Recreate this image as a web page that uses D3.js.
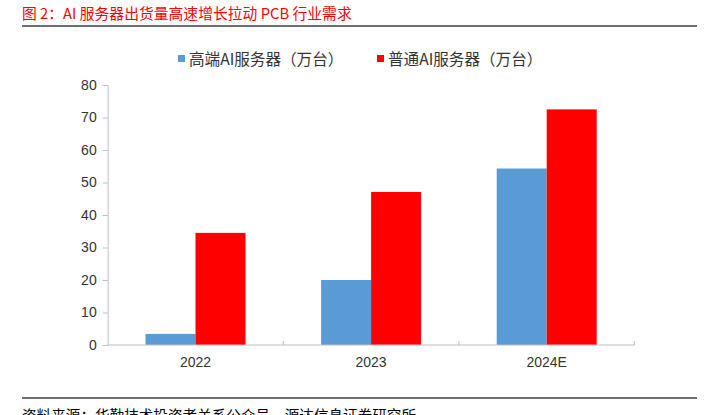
<!DOCTYPE html>
<html>
<head>
<meta charset="utf-8">
<script src="https://cdn.jsdelivr.net/npm/d3@7/dist/d3.min.js"></script>
<style>
  body { margin: 0; background: #fff; }
  svg { display: block; font-family: "Liberation Sans", Arial, "Noto Sans CJK SC", sans-serif; }
</style>
</head>
<body>
<svg id="chart" width="705" height="415"></svg>
<script>
var categories = ['2022', '2023', '2024E'];
var highEnd = [3.4, 20.0, 54.3];
var normal = [34.5, 47.1, 72.5];
var seriesNames = ['高端AI服务器（万台）', '普通AI服务器（万台）'];
var seriesColors = ['#5b9bd5', '#ff0000'];
var yTicks = [0, 10, 20, 30, 40, 50, 60, 70, 80];

var svg = d3.select('#chart');
var cjk = '"Noto Sans CJK SC", sans-serif';

// title + rule
svg.append('text')
   .attr('x', 22).attr('y', 19)
   .style('font-family', cjk)
   .style('font-size', '14.8px')
   .style('fill', '#ff0000')
   .text('图 2：AI 服务器出货量高速增长拉动 PCB 行业需求');
svg.append('line')
   .attr('x1', 22).attr('x2', 697).attr('y1', 26).attr('y2', 26)
   .style('stroke', '#404040').style('stroke-width', 1.3);

// footer
svg.append('line')
   .attr('x1', 22).attr('x2', 697).attr('y1', 398).attr('y2', 398)
   .style('stroke', '#404040').style('stroke-width', 1.3);
svg.append('text')
   .attr('x', 22).attr('y', 421)
   .style('font-family', cjk)
   .style('font-size', '14.6px')
   .style('fill', '#000')
   .text('资料来源：华勤技术投资者关系公众号，源达信息证券研究所');

var mLeft = 107.7, mRight = 634.5, mTop = 85, mBottom = 345;

var x0 = d3.scaleBand().domain(categories).range([mLeft, mRight]).paddingInner(0).paddingOuter(0);
var x1 = d3.scaleBand().domain([0, 1]).range([0, 100]);
var y = d3.scaleLinear().domain([0, 80]).range([mBottom, mTop]);

// bars
var g = svg.append('g');
categories.forEach(function(c, i){
  var vals = [highEnd[i], normal[i]];
  var off = x0(c) + (x0.bandwidth() - 100) / 2;
  vals.forEach(function(v, j){
    g.append('rect')
     .attr('x', off + x1(j))
     .attr('y', y(v))
     .attr('width', x1.bandwidth())
     .attr('height', y(0) - y(v))
     .style('fill', seriesColors[j]);
  });
});

// y axis
var yAxis = d3.axisLeft(y).tickValues(yTicks).tickSize(5).tickPadding(6);
var ya = svg.append('g').attr('transform', 'translate(' + mLeft + ',0)').call(yAxis);
ya.select('.domain').style('stroke', '#bfbfbf');
ya.selectAll('.tick line').style('stroke', '#bfbfbf');
ya.selectAll('.tick text')
  .style('font-size', '14px').style('fill', '#333')
  .style('font-family', '"Liberation Sans", Arial, sans-serif');

// x axis
svg.append('line')
   .attr('x1', mLeft).attr('x2', mRight).attr('y1', mBottom).attr('y2', mBottom)
   .style('stroke', '#bfbfbf');
categories.forEach(function(c){
  svg.append('line')
     .attr('x1', x0(c) + x0.bandwidth()).attr('x2', x0(c) + x0.bandwidth())
     .attr('y1', mBottom).attr('y2', mBottom - 4)
     .style('stroke', '#bfbfbf');
  svg.append('text')
     .attr('x', x0(c) + x0.bandwidth() / 2)
     .attr('y', mBottom + 22)
     .attr('text-anchor', 'middle')
     .style('font-size', '14px').style('fill', '#333')
     .text(c);
});

// legend
var legX = [178, 377];
seriesNames.forEach(function(n, j){
  svg.append('rect')
     .attr('x', legX[j]).attr('y', 55)
     .attr('width', 7).attr('height', 7)
     .style('fill', seriesColors[j]);
  svg.append('text')
     .attr('x', legX[j] + 11).attr('y', 65)
     .style('font-family', cjk)
     .style('font-size', '15.6px').style('fill', '#333')
     .text(n);
});
</script>
</body>
</html>
